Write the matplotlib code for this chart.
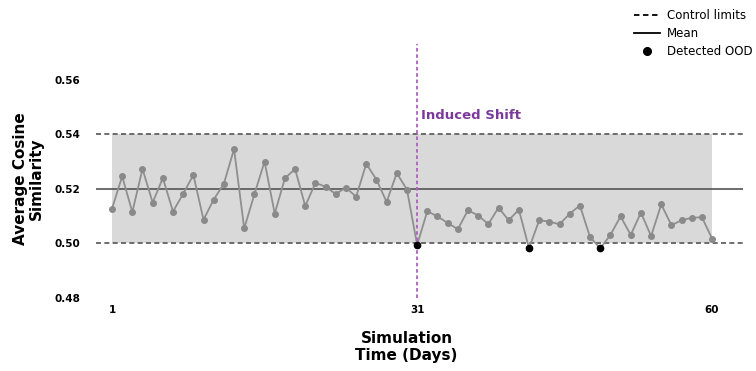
import matplotlib
matplotlib.use("Agg")
import matplotlib.pyplot as plt
from matplotlib.lines import Line2D

days = list(range(1, 61))
similarity = [
    0.5127, 0.5246, 0.5115, 0.5273, 0.5150, 0.5240, 0.5117, 0.5182, 0.5251, 0.5087,
    0.5161, 0.5219, 0.5346, 0.5055, 0.5180, 0.5300, 0.5109, 0.5239, 0.5273, 0.5137,
    0.5222, 0.5208, 0.5181, 0.5205, 0.5171, 0.5292, 0.5234, 0.5152, 0.5258, 0.5197,
    0.4995, 0.5118, 0.5099, 0.5075, 0.5052, 0.5122, 0.5102, 0.5071, 0.5131, 0.5085,
    0.5124, 0.4982, 0.5085, 0.5080, 0.5070, 0.5109, 0.5139, 0.5023, 0.4982, 0.5031,
    0.5099, 0.5031, 0.5113, 0.5027, 0.5143, 0.5067, 0.5085, 0.5094, 0.5096, 0.5017,
]
ood_days = [31, 42, 49]
mean_value = 0.52
lower_limit = 0.50
upper_limit = 0.54
shift_day = 31
yticks = [0.48, 0.50, 0.52, 0.54, 0.56]
xticks = [1, 31, 60]

plt.rcParams['font.family'] = ['DejaVu Sans']

fig = plt.figure(figsize=(7.56, 3.71), dpi=100)
ax = fig.add_axes([0.127, 0.197, 0.856, 0.684])

ax.fill_between([days[0], days[-1]], lower_limit, upper_limit, color='#d9d9d9', zorder=0, linewidth=0)
ax.axhline(upper_limit, color='#555555', linestyle=(0, (3, 2)), linewidth=1.2, zorder=1)
ax.axhline(lower_limit, color='#555555', linestyle=(0, (3, 2)), linewidth=1.2, zorder=1)
ax.axhline(mean_value, color='#555555', linestyle='-', linewidth=1.2, zorder=1)

ax.plot(days, similarity, color='#8f8f8f', linewidth=1.3, marker='o', markersize=4,
        markerfacecolor='#8a8a8a', markeredgecolor='#8a8a8a', zorder=2)
ood_vals = [similarity[days.index(d)] for d in ood_days]
ax.plot(ood_days, ood_vals, linestyle='none', marker='o', markersize=4.5, color='black', zorder=4)

ax.axvline(shift_day, color='#b060c0', linestyle=(0, (2, 1.5)), linewidth=1.3, zorder=3)
ax.text(shift_day + 0.4, 0.5468, 'Induced Shift', color='#7a3a9c', fontsize=9.5,
        fontweight='bold', ha='left', va='center')

ax.set_xlim(-0.57, 63.05)
ax.set_ylim(0.4807, 0.5731)
ax.set_yticks(yticks)
ax.set_yticklabels([f'{v:.2f}' for v in yticks], fontsize=7.5, fontweight='bold')
ax.set_xticks(xticks)
ax.set_xticklabels([str(v) for v in xticks], fontsize=7.5, fontweight='bold')
ax.tick_params(axis='both', length=0)
ax.tick_params(axis='y', pad=11)
ax.tick_params(axis='x', pad=5)
for s in ax.spines.values():
    s.set_visible(False)

ax.set_ylabel('Average Cosine\nSimilarity', fontsize=11, fontweight='bold', linespacing=1.1)
ax.yaxis.set_label_coords(-0.08, 0.47)
ax.set_xlabel('Simulation\nTime (Days)', fontsize=11, fontweight='bold', linespacing=1.15)
ax.xaxis.set_label_coords(0.48, -0.13)

handles = [
    Line2D([0], [0], color='black', linestyle=(0, (3, 2)), linewidth=1.3),
    Line2D([0], [0], color='black', linestyle='-', linewidth=1.3),
    Line2D([0], [0], color='black', linestyle='none', marker='o', markersize=5.5),
]
fig.legend(handles, ['Control limits', 'Mean', 'Detected OOD'], loc='upper right',
           bbox_to_anchor=(1.01, 1.005), frameon=False, fontsize=8.5, handlelength=2.2,
           handletextpad=0.6, labelspacing=0.45)

fig.savefig('out.png', dpi=100)
